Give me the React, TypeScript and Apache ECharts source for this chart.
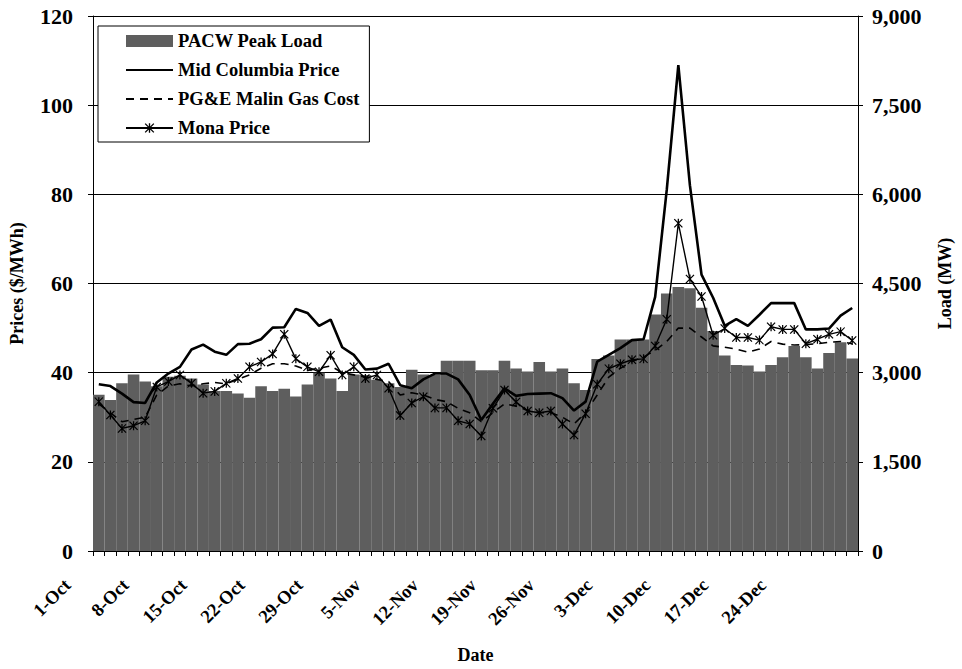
import React, { useEffect, useRef } from 'react';
import * as echarts from 'echarts';

// Trading days (weekdays) Oct-Dec
const octDays = [1, 2, 3, 4, 5, 8, 9, 10, 11, 12, 15, 16, 17, 18, 19, 22, 23, 24, 25, 26, 29, 30, 31];
const novDays = [1, 2, 5, 6, 7, 8, 9, 12, 13, 14, 15, 16, 19, 20, 21, 22, 23, 26, 27, 28, 29, 30];
const decDays = [3, 4, 5, 6, 7, 10, 11, 12, 13, 14, 17, 18, 19, 20, 21, 24, 25, 26, 27, 28, 31];
const dates: string[] = [
  ...octDays.map((d) => `${d}-Oct`),
  ...novDays.map((d) => `${d}-Nov`),
  ...decDays.map((d) => `${d}-Dec`),
];

// PACW Peak Load (MW)
const peakLoad = [
  2630, 2540, 2820, 2970, 2850, 2770, 2930, 2950, 2900, 2800,
  2690, 2690, 2650, 2580, 2770, 2690, 2730, 2600, 2800, 3000,
  2900, 2690, 2970, 2960, 2880, 2820, 2760, 3050, 2970, 2960,
  3200, 3200, 3200, 3040, 3040, 3200, 3070, 3020, 3180, 3020,
  3070, 2820, 2710, 3230, 3290, 3560, 3560, 3560, 3980, 4330,
  4440, 4420, 4090, 3700, 3290, 3130, 3120, 3020, 3130, 3260,
  3450, 3260, 3070, 3330, 3510, 3240,
];

// Mid Columbia Price ($/MWh)
const midColumbia = [
  37.4, 37, 35.3, 33.4, 33.2, 37.8, 39.8, 41.3, 45.2, 46.3,
  44.7, 44, 46.4, 46.5, 47.5, 50.1, 50.2, 54.3, 53.4, 50.5,
  51.9, 45.7, 44, 40.7, 40.9, 42, 37.2, 36.5, 38.5, 39.8,
  39.8, 38.5, 35, 29.4, 33, 36.5, 34.8, 35.2, 35.3, 35.4,
  34.3, 31.5, 33.5, 42.5, 44, 45.5, 47.3, 47.5, 57, 81,
  109, 82, 62, 56.8, 50.5, 52, 50.5, 53, 55.6, 55.6,
  55.6, 49.7, 49.7, 49.9, 52.8, 54.5,
];

// PG&E Malin Gas Cost ($/MWh)
const malinGas = [
  33, 31, 29, 29.5, 30, 35, 37, 37.5, 37, 37.5,
  37.8, 37.5, 38.5, 39.5, 41, 42, 42, 41.5, 40.5, 41,
  41.5, 40, 39.5, 39, 38.5, 38, 35, 35.5, 35, 34,
  33.5, 32, 31, 29, 31, 33, 32.5, 31.5, 31, 31,
  30, 28.5, 31, 35, 39, 41, 42.5, 43.5, 45, 47,
  50, 50, 48, 46, 45.7, 45.3, 44.6, 45.3, 47, 46.4,
  46.2, 46.3, 46.5, 46.8, 47, 46.5,
];

// Mona Price ($/MWh)
const mona = [
  33.5, 30.5, 27.5, 28.1, 29.2, 36.8, 38, 39.5, 37.6, 35.4,
  35.8, 37.6, 38.7, 41.3, 42.4, 44.2, 48.6, 43.1, 41.3, 40.2,
  43.9, 39.5, 41.3, 38.7, 39.5, 36.5, 30.4, 33.2, 34.6, 32.1,
  32.1, 29.2, 28.5, 25.8, 32, 36.1, 33.4, 31.4, 31, 31.4,
  28.5, 26, 30.8, 37.4, 40.9, 42, 42.9, 43.1, 46, 52,
  73.5, 61, 57.1, 48.4, 49.9, 47.9, 47.9, 47.3, 50.3, 49.7,
  49.7, 46.5, 47.5, 48.6, 49.2, 47.2,
];

const FONT = "'Liberation Serif', 'Times New Roman', serif";
const STAR = 'path://M4.3,0H5.7V10H4.3Z M0,0.8L1,0L10,9.2L9,10Z M9,0L10,0.8L1,10L0,9.2Z';
const BAR_COLOR = '#5e5e5e';

export default function App() {
  const ref = useRef<HTMLDivElement>(null);

  useEffect(() => {
    if (!ref.current) return;
    const chart = echarts.init(ref.current, undefined, { renderer: 'svg' });
    const txt = { fontFamily: FONT, fontWeight: 'bold' as const, color: '#000' };
    chart.setOption({
      animation: false,
      backgroundColor: '#fff',
      grid: { left: 85, right: 87, top: 16, bottom: 106, containLabel: false },
      legend: {
        orient: 'vertical',
        left: 98,
        top: 26,
        padding: [5, 10, 4, 27],
        itemGap: 9,
        itemWidth: 47,
        itemHeight: 12,
        backgroundColor: '#fff',
        borderColor: '#000',
        borderWidth: 1,
        borderRadius: 0,
        textStyle: { ...txt, fontSize: 18.5, lineHeight: 20 },
        data: [
          { name: 'PACW Peak Load', icon: 'rect' },
          { name: 'Mid Columbia Price', itemStyle: { opacity: 0 } },
          { name: 'PG&E Malin Gas Cost', itemStyle: { opacity: 0 } },
          { name: 'Mona Price' },
        ],
      },
      xAxis: {
        type: 'category',
        data: dates,
        boundaryGap: true,
        name: 'Date',
        nameLocation: 'middle',
        nameGap: 95,
        nameTextStyle: { ...txt, fontSize: 18 },
        axisLine: { lineStyle: { color: '#000', width: 1 } },
        axisTick: { show: true, interval: 0, length: 5, lineStyle: { color: '#000' } },
        axisLabel: {
          ...txt,
          fontSize: 18.5,
          rotate: 45,
          margin: 0,
          padding: [0, 44, 0, 0],
          interval: (i: number) => i % 5 === 0 && i < 65,
        },
        splitLine: { show: false },
      },
      yAxis: [
        {
          type: 'value',
          position: 'left',
          min: 0,
          max: 120,
          interval: 20,
          name: 'Prices ($/MWh)',
          nameLocation: 'middle',
          nameRotate: 90,
          nameGap: 67,
          nameTextStyle: { ...txt, fontSize: 18 },
          axisLine: { show: true, lineStyle: { color: '#000' } },
          axisTick: { show: true, length: 5, lineStyle: { color: '#000' } },
          axisLabel: { ...txt, fontSize: 22, margin: 20 },
          splitLine: { show: true, lineStyle: { color: '#000', width: 1 } },
        },
        {
          type: 'value',
          position: 'right',
          min: 0,
          max: 9000,
          interval: 1500,
          name: 'Load (MW)',
          nameLocation: 'middle',
          nameRotate: 90,
          nameGap: 78,
          nameTextStyle: { ...txt, fontSize: 18 },
          axisLine: { show: true, lineStyle: { color: '#000' } },
          axisTick: { show: true, length: 5, lineStyle: { color: '#000' } },
          axisLabel: {
            ...txt,
            fontSize: 22,
            margin: 14,
            formatter: (v: number) => v.toLocaleString('en-US'),
          },
          splitLine: { show: false },
        },
      ],
      series: [
        {
          name: 'PACW Peak Load',
          type: 'bar',
          yAxisIndex: 1,
          data: peakLoad,
          barCategoryGap: '0%',
          itemStyle: { color: BAR_COLOR },
        },
        {
          name: 'Mid Columbia Price',
          type: 'line',
          yAxisIndex: 0,
          data: midColumbia,
          symbol: 'none',
          color: '#000',
          lineStyle: { color: '#000', width: 2.6 },
        },
        {
          name: 'PG&E Malin Gas Cost',
          type: 'line',
          yAxisIndex: 0,
          data: malinGas,
          symbol: 'none',
          color: '#000',
          lineStyle: { color: '#000', width: 1.6, type: [8, 6] },
        },
        {
          name: 'Mona Price',
          type: 'line',
          yAxisIndex: 0,
          data: mona,
          symbol: STAR,
          symbolSize: 9,
          showAllSymbol: true,
          color: '#000',
          itemStyle: { color: '#000' },
          lineStyle: { color: '#000', width: 1.4 },
        },
      ],
    });
    return () => chart.dispose();
  }, []);

  return (
    <div
      ref={ref}
      style={{ position: 'absolute', left: 0, top: 0, width: 962, height: 669, background: '#fff' }}
    />
  );
}
